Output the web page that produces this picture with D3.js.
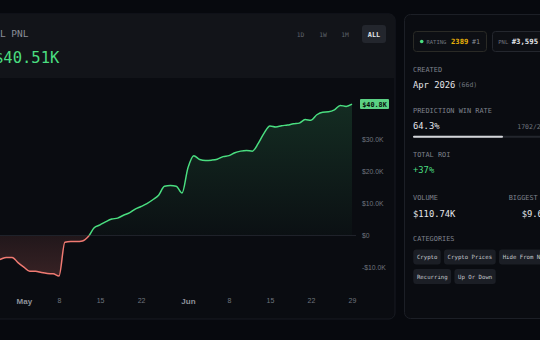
<!DOCTYPE html>
<html>
<head>
<meta charset="utf-8">
<script src="https://cdn.jsdelivr.net/npm/d3@7"></script>
<style>
  html, body { margin: 0; padding: 0; background: #07090e; overflow: hidden; }
  svg { display: block; font-family: "DejaVu Sans Mono", "Liberation Mono", monospace; }
</style>
</head>
<body>
<svg id="chart" width="540" height="340"></svg>
<script>
/* global d3 */

// daily PnL points (gaps are days with no data)
const dates = [
  '2026-04-25', '2026-04-26', '2026-04-27', '2026-04-28', '2026-04-29', '2026-04-30', '2026-05-01',
  '2026-05-02', '2026-05-03', '2026-05-05', '2026-05-06', '2026-05-07', '2026-05-08',
  '2026-05-09', '2026-05-10', '2026-05-11', '2026-05-12', '2026-05-13', '2026-05-14', '2026-05-15',
  '2026-05-16', '2026-05-17', '2026-05-18', '2026-05-19', '2026-05-20', '2026-05-21', '2026-05-22',
  '2026-05-23', '2026-05-24', '2026-05-26', '2026-05-27', '2026-05-28', '2026-05-29', '2026-05-31', '2026-06-01',
  '2026-06-02', '2026-06-03', '2026-06-04', '2026-06-05', '2026-06-06', '2026-06-07', '2026-06-08',
  '2026-06-09', '2026-06-10', '2026-06-11', '2026-06-12', '2026-06-13', '2026-06-14', '2026-06-15',
  '2026-06-16', '2026-06-17', '2026-06-18', '2026-06-19', '2026-06-20', '2026-06-21', '2026-06-22',
  '2026-06-23', '2026-06-24', '2026-06-25', '2026-06-26', '2026-06-27', '2026-06-28', '2026-06-29',
];

// cumulative PnL, thousands of $
const pnl = [
  -8.0, -8.0, -7.4, -6.8, -6.8, -8.4, -9.8,
  -11.1, -11.1, -11.5, -11.8, -11.9, -12.6,
  -2.1, -1.9, -1.9, -1.7, -0.3, 2.4, 3.3,
  4.3, 5.1, 5.4, 6.3, 7.0, 8.2, 9.0,
  9.9, 11.1, 12.5, 15.3, 15.5, 15.3, 13.2, 21.0,
  24.8, 23.6, 23.3, 23.4, 23.7, 24.5, 24.8,
  25.7, 26.2, 26.4, 26.2, 28.6, 31.8, 34.0,
  33.7, 34.1, 34.3, 34.7, 34.9, 36.0, 35.8,
  37.5, 38.3, 38.4, 39.0, 40.4, 40.1, 40.8,
];

const xTickDates = ['2026-05-01', '2026-05-08', '2026-05-15', '2026-05-22', '2026-06-01', '2026-06-08', '2026-06-15', '2026-06-22', '2026-06-29'];
const xTickLabels = ['May', '8', '15', '22', 'Jun', '8', '15', '22', '29'];
const yTicks = [-10, 0, 10, 20, 30];

const ranges = ['1D', '1W', '1M', 'ALL'];
const categories = [['Crypto', 'Crypto Prices', 'Hide From New'], ['Recurring', 'Up Or Down']];

const COLORS = {
  green: '#4ade80',
  red: '#f07a72',
  muted: '#6f747e',
  label: '#7d818b',
  text: '#e4e6ea',
  chip: '#1b1e25',
};

const svg = d3.select('#chart');
const defs = svg.append('defs');

// ---- left card ----
svg.append('rect').attr('x', -20).attr('y', 14).attr('width', 415).attr('height', 305)
  .attr('rx', 6).attr('fill', '#0a0c11').attr('stroke', '#181b22');
svg.append('path').attr('d', 'M-20,78 V20 a6,6 0 0 1 6,-6 H389 a6,6 0 0 1 6,6 V78 Z')
  .attr('fill', '#121419');

svg.append('text').attr('x', -23).attr('y', 37).attr('font-size', 9.5)
  .attr('fill', '#8a8e97').text('TOTAL PNL');
svg.append('text').attr('x', -6).attr('y', 63).attr('font-size', 15.5)
  .attr('fill', COLORS.green).text('$40.51K');

svg.append('rect').attr('x', 362).attr('y', 25).attr('width', 24).attr('height', 18)
  .attr('rx', 3).attr('fill', '#23262d');
const rangeX = [300.5, 323, 345, 374];
svg.append('g').selectAll('text').data(ranges).join('text')
  .attr('x', (d, i) => rangeX[i]).attr('y', 36.5)
  .attr('text-anchor', 'middle')
  .attr('font-size', (d) => (d === 'ALL' ? 6.8 : 6.3))
  .attr('font-weight', (d) => (d === 'ALL' ? 'bold' : 'normal'))
  .attr('fill', (d) => (d === 'ALL' ? '#e4e6ea' : '#5f636c'))
  .text((d) => d);

// ---- chart ----
const x = d3.scalePoint().domain(dates).range([-11.3, 352]);
const y = d3.scaleLinear().domain([-10, 40]).range([267.7, 106.7]);
const data = dates.map((d, i) => ({ date: d, v: pnl[i] }));
const y0 = y(0);

defs.append('clipPath').attr('id', 'above').append('rect')
  .attr('x', -20).attr('y', 78).attr('width', 380).attr('height', y0 - 78);
defs.append('clipPath').attr('id', 'below').append('rect')
  .attr('x', -20).attr('y', y0).attr('width', 380).attr('height', 290 - y0);

const gUp = defs.append('linearGradient').attr('id', 'gUp')
  .attr('gradientUnits', 'userSpaceOnUse').attr('x1', 0).attr('x2', 0)
  .attr('y1', y(40)).attr('y2', y0);
gUp.append('stop').attr('offset', 0).attr('stop-color', COLORS.green).attr('stop-opacity', 0.15);
gUp.append('stop').attr('offset', 1).attr('stop-color', COLORS.green).attr('stop-opacity', 0.02);

const gDown = defs.append('linearGradient').attr('id', 'gDown')
  .attr('gradientUnits', 'userSpaceOnUse').attr('x1', 0).attr('x2', 0)
  .attr('y1', y0).attr('y2', y(-13));
gDown.append('stop').attr('offset', 0).attr('stop-color', COLORS.red).attr('stop-opacity', 0.1);
gDown.append('stop').attr('offset', 1).attr('stop-color', COLORS.red).attr('stop-opacity', 0.2);

const area = d3.area().x((d) => x(d.date)).y0(y0).y1((d) => y(d.v)).curve(d3.curveMonotoneX);
const line = d3.line().x((d) => x(d.date)).y((d) => y(d.v)).curve(d3.curveMonotoneX);

svg.append('path').datum(data).attr('d', area).attr('fill', 'url(#gUp)').attr('clip-path', 'url(#above)');
svg.append('path').datum(data).attr('d', area).attr('fill', 'url(#gDown)').attr('clip-path', 'url(#below)');

svg.append('line').attr('x1', -20).attr('x2', 356).attr('y1', y0).attr('y2', y0)
  .attr('stroke', '#1f222a').attr('stroke-width', 1);

svg.append('path').datum(data).attr('d', line).attr('fill', 'none')
  .attr('stroke', COLORS.green).attr('stroke-width', 1.5).attr('clip-path', 'url(#above)');
svg.append('path').datum(data).attr('d', line).attr('fill', 'none')
  .attr('stroke', COLORS.red).attr('stroke-width', 1.5).attr('clip-path', 'url(#below)');

// price axis
const fmtK = (v) => (v < 0 ? '-' : '') + '$' + (v === 0 ? '0' : Math.abs(v).toFixed(1) + 'K');
const yAxis = svg.append('g').attr('transform', 'translate(362,0)')
  .call(d3.axisRight(y).tickValues(yTicks).tickSize(0).tickPadding(0).tickFormat(fmtK));
yAxis.select('.domain').remove();
yAxis.selectAll('text').attr('font-family', null).attr('font-size', 6.8).attr('fill', COLORS.muted);

const last = data[data.length - 1];
svg.append('rect').attr('x', 360).attr('y', y(last.v) - 5).attr('width', 29).attr('height', 10)
  .attr('rx', 1).attr('fill', '#5bd184');
svg.append('text').attr('x', 374.5).attr('y', y(last.v)).attr('dy', '0.35em')
  .attr('text-anchor', 'middle').attr('font-size', 6.8).attr('font-weight', 'bold')
  .attr('fill', '#08130c').text('$' + last.v.toFixed(1) + 'K');

// time axis
const xAxis = svg.append('g').attr('transform', 'translate(0,298)')
  .call(d3.axisBottom(x).tickValues(xTickDates).tickSize(0).tickPadding(0)
    .tickFormat((d, i) => xTickLabels[i]));
xAxis.select('.domain').remove();
xAxis.selectAll('text').attr('font-family', null)
  .attr('font-size', (d, i) => (isNaN(+xTickLabels[i]) ? 8 : 7))
  .attr('font-weight', (d, i) => (isNaN(+xTickLabels[i]) ? 'bold' : 'normal'))
  .attr('fill', (d, i) => (isNaN(+xTickLabels[i]) ? '#8e929b' : COLORS.muted));

// ---- right panel ----
svg.append('rect').attr('x', 404.5).attr('y', 14.5).attr('width', 160).attr('height', 304)
  .attr('rx', 6).attr('fill', '#0a0c11').attr('stroke', '#1c1f26');

// chips
svg.append('rect').attr('x', 413.5).attr('y', 31.5).attr('width', 73).attr('height', 20)
  .attr('rx', 3).attr('fill', '#0d0f14').attr('stroke', '#2a2a26');
svg.append('circle').attr('cx', 421.7).attr('cy', 41.5).attr('r', 1.8).attr('fill', COLORS.green);
svg.append('text').attr('x', 426.5).attr('y', 43.5).attr('font-size', 5.5).attr('fill', COLORS.muted).text('RATING');
svg.append('text').attr('x', 451).attr('y', 44).attr('font-size', 7.2).attr('font-weight', 'bold')
  .attr('fill', '#eab308').text('2389');
svg.append('text').attr('x', 472).attr('y', 44).attr('font-size', 6.6).attr('fill', '#8a8e97').text('#1');

svg.append('rect').attr('x', 492.5).attr('y', 31.5).attr('width', 70).attr('height', 20)
  .attr('rx', 3).attr('fill', '#0d0f14').attr('stroke', '#24272e');
svg.append('text').attr('x', 498.3).attr('y', 43.5).attr('font-size', 5.5).attr('fill', COLORS.muted).text('PNL');
svg.append('text').attr('x', 511.7).attr('y', 44).attr('font-size', 7.3).attr('font-weight', 'bold')
  .attr('fill', COLORS.text).text('#3,595');

const lbl = (xx, yy, t) => svg.append('text').attr('x', xx).attr('y', yy)
  .attr('font-size', 6.9).attr('fill', COLORS.label).text(t);
const val = (xx, yy, t, c) => svg.append('text').attr('x', xx).attr('y', yy)
  .attr('font-size', 8.8).attr('fill', c || COLORS.text).text(t);

lbl(413, 71.5, 'CREATED');
val(413, 87.5, 'Apr 2026');
svg.append('text').attr('x', 457.7).attr('y', 87).attr('font-size', 6.5).attr('fill', COLORS.muted).text('(66d)');

lbl(413, 112.5, 'PREDICTION WIN RATE');
val(413, 129, '64.3%');
svg.append('text').attr('x', 517.3).attr('y', 128.5).attr('font-size', 6.5).attr('fill', COLORS.muted).text('1702/2647');
svg.append('rect').attr('x', 413).attr('y', 135.8).attr('width', 140).attr('height', 2).attr('rx', 1).attr('fill', '#23262d');
svg.append('rect').attr('x', 413).attr('y', 135.8).attr('width', 90).attr('height', 2).attr('rx', 1).attr('fill', '#d4d6da');

lbl(413, 156.5, 'TOTAL ROI');
val(413, 173, '+37%', COLORS.green);

lbl(413, 200, 'VOLUME');
lbl(508.7, 200, 'BIGGEST WIN');
val(413, 217, '$110.74K');
val(521.7, 217, '$9.60K');

lbl(413, 240.5, 'CATEGORIES');

const chipRows = [249.5, 269];
categories.forEach((row, r) => {
  let cx = 413.3;
  row.forEach((c) => {
    const w = c.length * 3.47 + 6.6;
    svg.append('rect').attr('x', cx).attr('y', chipRows[r]).attr('width', w).attr('height', 15)
      .attr('rx', 3).attr('fill', COLORS.chip);
    svg.append('text').attr('x', cx + 3.6).attr('y', chipRows[r] + 9.7)
      .attr('font-size', 5.7).attr('fill', '#c5c8ce').text(c);
    cx += w + 3.3;
  });
});
</script>
</body>
</html>
